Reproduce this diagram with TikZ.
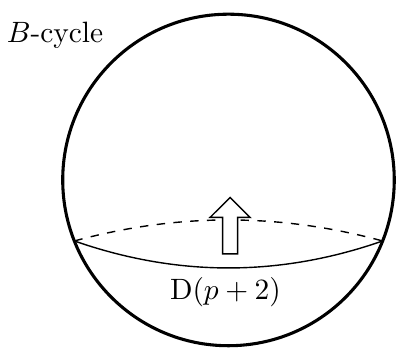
\documentclass[tikz,border=0pt]{standalone}
\usepackage{tikz}
\usetikzlibrary{positioning, calc}

\begin{document}
\begin{tikzpicture}[
  sphere/.style={draw, line width=1.1pt},
  front/.style={draw, line width=0.5pt},
  back/.style={draw, dashed, line width=0.5pt},
  blockarr/.style={draw, fill=white, line width=0.5pt},
  lbl/.style={font=\normalsize, anchor=base, scale=1.05},
]
\useasboundingbox (-2.867,-2.120) rectangle (2.102,2.258);

% Sphere
\coordinate (c) at (0,0);
\draw[sphere] (c) circle (2.08);

% Equator end points
\coordinate (eqL) at (201.6:2.08);
\coordinate (eqR) at (338.4:2.08);

% Back and front halves of the equator
\draw[back] (eqL) .. controls (-0.64,-0.414) and (0.64,-0.414) .. (eqR);
\draw[front] (eqL) .. controls (-0.64,-1.217) and (0.64,-1.217) .. (eqR);

% Block arrow
\draw[blockarr] (-0.074,-0.928) -- (-0.074,-0.47) -- (-0.231,-0.47) -- (0.02,-0.22)
  -- (0.271,-0.47) -- (0.114,-0.47) -- (0.114,-0.928) -- cycle;

% Labels
\node[lbl] (cyc) at (-2.177,1.719) {$B$-cycle};
\node[lbl] (disk) at (-0.038,-1.506) {$\mathrm{D}(p+2)$};

\end{tikzpicture}
\end{document}
